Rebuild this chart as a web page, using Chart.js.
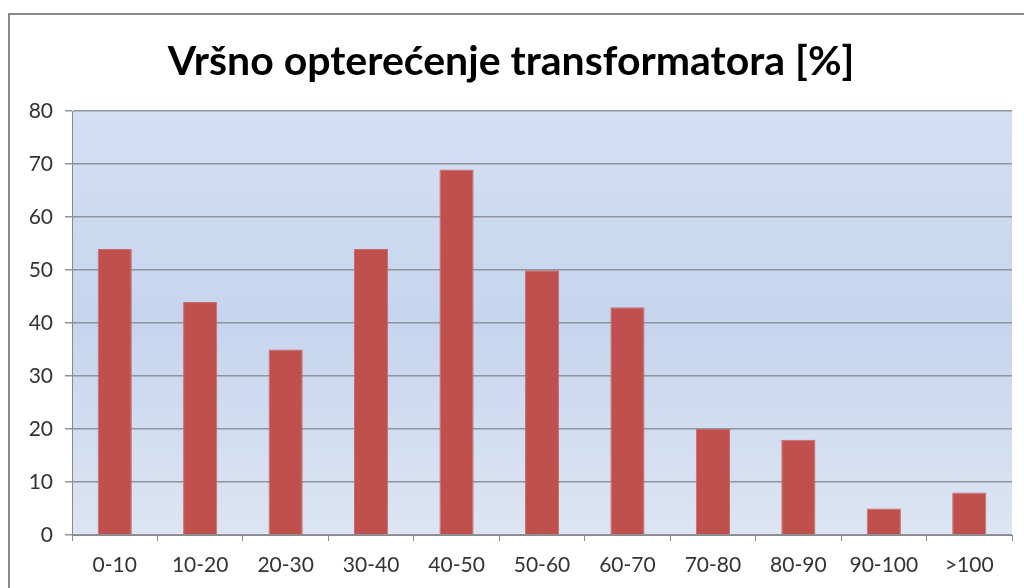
<!DOCTYPE html>
<html>
<head>
<meta charset="utf-8">
<script src="https://cdn.jsdelivr.net/npm/chart.js@4.4.1/dist/chart.umd.min.js"></script>
<style>
  html, body { margin: 0; padding: 0; background: #fff; overflow: hidden; }
  #box {
    position: absolute; left: 8px; top: 13px;
    width: 1100px; height: 700px;
    border: 2px solid #8a8a8a; background: #fff;
  }
  #wrap { position: absolute; left: 0; top: 0; width: 1014px; height: 573px; }
</style>
</head>
<body>
<div id="box"><div id="wrap"><canvas id="chart"></canvas></div></div>
<script>
// Podaci
const kategorije = ["0-10", "10-20", "20-30", "30-40", "40-50", "50-60", "60-70", "70-80", "80-90", "90-100", ">100"];
const vrijednosti = [54, 44, 35, 54, 69, 50, 43, 20, 18, 5, 8];
const naslov = "Vršno opterećenje transformatora [%]";

// Pozadina područja grafa (gradijent)
const pozadina = {
    id: 'pozadina',
    beforeDraw(chart) {
        const a = chart.chartArea;
        const ctx = chart.ctx;
        const g = ctx.createLinearGradient(0, a.top, 0, a.bottom);
        g.addColorStop(0, '#d3dff3');
        g.addColorStop(0.5, '#c6d5ee');
        g.addColorStop(1, '#dde5f3');
        ctx.save();
        ctx.fillStyle = g;
        ctx.fillRect(a.left, a.top, a.right - a.left, a.bottom - a.top);
        ctx.restore();
    }
};

const ctx = document.getElementById('chart').getContext('2d');
new Chart(ctx, {
    type: 'bar',
    data: {
        labels: kategorije,
        datasets: [{
            data: vrijednosti,
            backgroundColor: '#c0504d',
            borderColor: '#c96a67',
            borderWidth: 1,
            barPercentage: 0.4,
            categoryPercentage: 1.0
        }]
    },
    options: {
        responsive: true,
        maintainAspectRatio: false,
        animation: false,
        layout: { padding: { left: 0, right: 12, top: 0, bottom: 0 } },
        plugins: {
            legend: { display: false },
            tooltip: { enabled: false },
            title: {
                display: true,
                text: naslov,
                color: '#000',
                font: { family: 'Lato', size: 41, weight: 'bold' },
                padding: { top: 22, bottom: 25 }
            }
        },
        scales: {
            x: {
                grid: {
                    offset: true,
                    drawOnChartArea: false,
                    drawTicks: true,
                    tickLength: 6,
                    color: '#8a8a8a'
                },
                border: { display: true, color: '#8a8a8a', width: 1 },
                ticks: {
                    color: '#333',
                    font: { family: 'Lato', size: 21 },
                    padding: 12,
                    maxRotation: 0
                },
                afterFit(scale) { scale.height = 53; }
            },
            y: {
                min: 0,
                max: 80,
                ticks: {
                    stepSize: 10,
                    color: '#333',
                    font: { family: 'Lato', size: 21 },
                    padding: 12
                },
                grid: {
                    color: '#8e949c',
                    lineWidth: 1.5,
                    drawTicks: true,
                    tickLength: 7
                },
                border: { display: true, color: '#8a8a8a', width: 1 },
                afterFit(scale) { scale.width = 62; }
            }
        }
    },
    plugins: [pozadina]
});
</script>
</body>
</html>
